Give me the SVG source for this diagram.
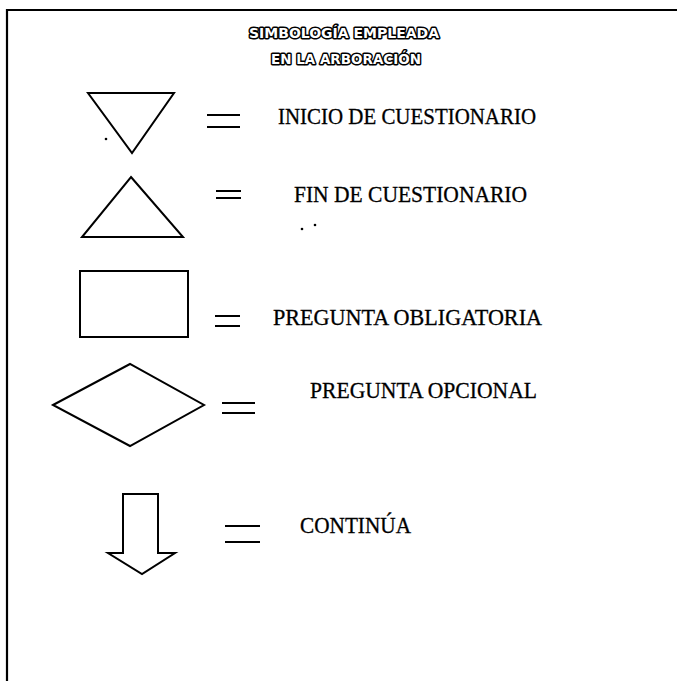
<svg xmlns="http://www.w3.org/2000/svg" width="677" height="681" viewBox="0 0 677 681">
<style>
.shape{fill:none;stroke:#000;stroke-width:2;stroke-linejoin:miter}
.eq{stroke:#000;stroke-width:2}
.lbl{font-family:"Liberation Serif","Times New Roman",serif;font-size:23px;fill:#000;stroke:#000;stroke-width:0.3}
.ttl{font-family:"DejaVu Sans","Liberation Sans",sans-serif;font-weight:bold;font-size:14px;fill:#fff;stroke:#000;stroke-width:3;paint-order:stroke;stroke-linejoin:round}
.dot{fill:#000}
</style>
<rect width="677" height="681" fill="#fff"/>
<path d="M7,681 V10 H677" fill="none" stroke="#000" stroke-width="2.2"/>
<g id="title">
<text class="ttl" x="344" y="38" text-anchor="middle" textLength="190" lengthAdjust="spacingAndGlyphs">SIMBOLOGÍA EMPLEADA</text>
<text class="ttl" x="346" y="64" text-anchor="middle" textLength="150" lengthAdjust="spacingAndGlyphs">EN LA ARBORACIÓN</text>
</g>
<g id="inicio">
<polygon class="shape" points="88,93 174,93 132,153"/>
<circle class="dot" cx="106" cy="139" r="1.3"/>
<line class="eq" x1="207" y1="115" x2="240" y2="115"/>
<line class="eq" x1="207" y1="127" x2="240" y2="127"/>
<text class="lbl" x="278" y="124" textLength="258" lengthAdjust="spacingAndGlyphs">INICIO DE CUESTIONARIO</text>
</g>
<g id="fin">
<polygon class="shape" points="131,177 183,237 82,237"/>
<line class="eq" x1="216" y1="191" x2="241" y2="191"/>
<line class="eq" x1="216" y1="198" x2="241" y2="198"/>
<text class="lbl" x="294" y="202" textLength="233" lengthAdjust="spacingAndGlyphs">FIN DE CUESTIONARIO</text>
<circle class="dot" cx="302" cy="229" r="1.3"/>
<circle class="dot" cx="315" cy="225" r="1.3"/>
</g>
<g id="obligatoria">
<rect class="shape" x="80" y="271" width="108" height="66"/>
<line class="eq" x1="215" y1="316" x2="240" y2="316"/>
<line class="eq" x1="215" y1="326" x2="240" y2="326"/>
<text class="lbl" x="273" y="325" textLength="269" lengthAdjust="spacingAndGlyphs">PREGUNTA OBLIGATORIA</text>
</g>
<g id="opcional">
<polygon class="shape" points="53,405 130,364 204,405 130,446"/>
<line class="eq" x1="222" y1="403" x2="255" y2="403"/>
<line class="eq" x1="222" y1="413" x2="255" y2="413"/>
<text class="lbl" x="310" y="398" textLength="227" lengthAdjust="spacingAndGlyphs">PREGUNTA OPCIONAL</text>
</g>
<g id="continua">
<polygon class="shape" points="123,494 158,494 158,553 175,553 142,574 108,553 123,553"/>
<line class="eq" x1="225" y1="526" x2="260" y2="526"/>
<line class="eq" x1="225" y1="542" x2="260" y2="542"/>
<text class="lbl" x="300" y="533" font-size="19" textLength="111" lengthAdjust="spacingAndGlyphs">CONTINÚA</text>
</g>
<g id="connectors"/>
</svg>
